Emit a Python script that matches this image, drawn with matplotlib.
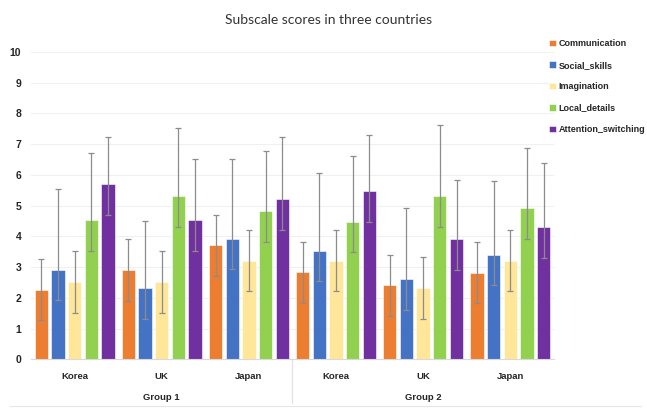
import matplotlib
matplotlib.use("Agg")
import matplotlib.pyplot as plt
import numpy as np
from matplotlib.transforms import blended_transform_factory

# Categories (two groups x three countries)
countries = ["Korea", "UK", "Japan", "Korea", "UK", "Japan"]
groups = ["Group 1", "Group 2"]

subscales = ["Communication", "Social_skills", "Imagination",
             "Local_details", "Attention_switching"]

# Mean scores per subscale across the six categories
communication = [2.27, 2.90, 3.71, 2.83, 2.41, 2.82]
social_skills = [2.90, 2.31, 3.91, 3.53, 2.61, 3.41]
imagination = [2.51, 2.51, 3.21, 3.21, 2.32, 3.21]
local_details = [4.52, 5.32, 4.81, 4.47, 5.32, 4.91]
attention_switching = [5.69, 4.52, 5.20, 5.47, 3.92, 4.31]

# Lower / upper error extents per subscale
comm_err_lo = [1.0, 1.0, 1.0, 1.0, 1.0, 1.0]
comm_err_hi = [1.0, 1.0, 1.0, 1.0, 1.0, 1.0]
social_err_lo = [0.98, 1.0, 0.98, 0.99, 1.0, 1.0]
social_err_hi = [2.64, 2.20, 2.62, 2.52, 2.31, 2.38]
imag_err_lo = [1.0, 1.0, 1.0, 1.0, 1.0, 1.0]
imag_err_hi = [1.0, 1.0, 1.0, 1.0, 1.0, 1.0]
local_err_lo = [1.0, 1.0, 1.0, 0.99, 1.0, 1.0]
local_err_hi = [2.20, 2.19, 1.95, 2.13, 2.29, 1.97]
attn_err_lo = [1.0, 1.0, 1.0, 1.0, 1.0, 1.0]
attn_err_hi = [1.55, 2.01, 2.02, 1.84, 1.90, 2.06]

series = [communication, social_skills, imagination, local_details, attention_switching]
err_lo = [comm_err_lo, social_err_lo, imag_err_lo, local_err_lo, attn_err_lo]
err_hi = [comm_err_hi, social_err_hi, imag_err_hi, local_err_hi, attn_err_hi]
colors = ["#ED7D31", "#4472C4", "#FFE699", "#92D050", "#7030A0"]

bold_font = ["Liberation Sans", "DejaVu Sans"]
text_color = "#262626"

fig = plt.figure(figsize=(6.47, 4.08), dpi=100)
ax = fig.add_axes([0.048, 0.119, 0.808, 0.754])

x = np.arange(len(countries))
pitch = 0.1915
width = 0.1525
for i, (vals, lo, hi, col, name) in enumerate(zip(series, err_lo, err_hi, colors, subscales)):
    pos = x + (i - 2) * pitch
    ax.bar(pos, vals, width=width, color=col, edgecolor="white", linewidth=0.4,
           label=name, zorder=2)
    ax.errorbar(pos, vals, yerr=[lo, hi], fmt="none", ecolor="#8c8c8c",
                elinewidth=0.9, capsize=2.2, capthick=0.9, zorder=3)

ax.set_xlim(-0.5, len(countries) - 0.5)
ax.set_ylim(0, 10)
ax.set_yticks(range(0, 11))
ax.yaxis.grid(True, color="#f0f0f0", linewidth=0.8, zorder=0)
ax.set_axisbelow(True)
for s in ["left", "right", "top"]:
    ax.spines[s].set_visible(False)
ax.spines["bottom"].set_color("#d9d9d9")
ax.tick_params(axis="both", length=0, pad=7)
ax.set_xticks([])
for lbl in ax.get_yticklabels():
    lbl.set_fontfamily(bold_font)
    lbl.set_fontweight("bold")
    lbl.set_fontsize(7.5)
    lbl.set_color(text_color)

# Category and group labels beneath the axis
trans = blended_transform_factory(ax.transData, ax.transAxes)
for xi, c in zip(x, countries):
    ax.text(xi, -0.054, c, transform=trans, ha="center", va="center",
            fontsize=6.8, fontweight="bold", family=bold_font, color=text_color)
for gi, g in enumerate(groups):
    ax.text(gi * 3 + 1, -0.125, g, transform=trans, ha="center", va="center",
            fontsize=6.8, fontweight="bold", family=bold_font, color=text_color)
# Separator between the two groups
ax.plot([2.5, 2.5], [0, -0.142], transform=trans, color="#e3e3e3",
        linewidth=0.9, clip_on=False)
fig.add_artist(plt.Line2D([0.015, 0.99], [0.005, 0.005], color="#e6e6e6",
                          linewidth=0.8))

fig.suptitle("Subscale scores in three countries", x=0.508, y=0.965,
             fontsize=10, family=["Lato", "DejaVu Sans"], color="#333333")

leg = ax.legend(loc="upper left", bbox_to_anchor=(0.849, 0.904),
                bbox_transform=fig.transFigure, frameon=False,
                handlelength=0.7, handleheight=0.7, handletextpad=0.3,
                labelspacing=1.38, borderaxespad=0, borderpad=0,
                prop={"family": bold_font, "weight": "bold", "size": 6.5})
for t in leg.get_texts():
    t.set_color(text_color)

fig.savefig("out.png", dpi=100)
